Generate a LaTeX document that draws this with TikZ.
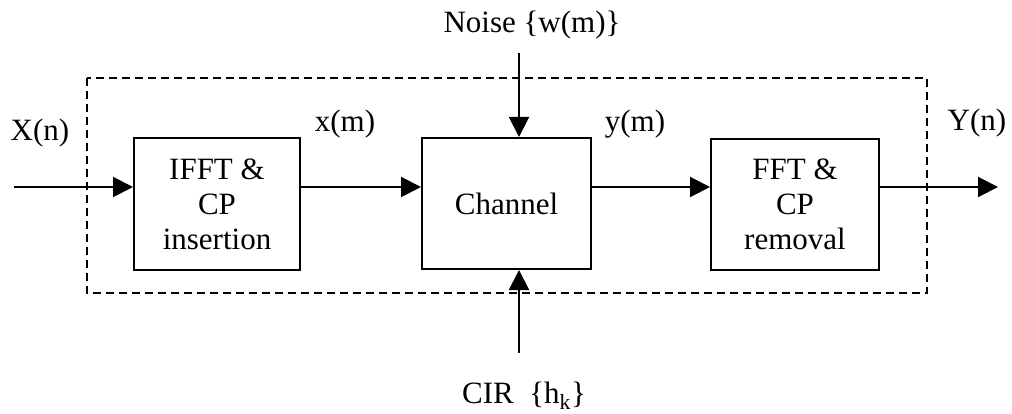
\documentclass[tikz,border=0pt]{standalone}
\usepackage{fontspec}
\setmainfont{Liberation Serif}
\usetikzlibrary{arrows.meta}
\begin{document}
\begin{tikzpicture}[x=1pt,y=-1pt,
  every node/.style={font=\fontsize{31}{35}\selectfont, inner sep=0pt},
  block/.style={draw, line width=2pt, align=center},
  sig/.style={line width=2pt, -{Triangle[length=20pt,width=20pt]}},
  frame/.style={line width=2pt, dash pattern=on 8pt off 5pt}]
\useasboundingbox (0,0) rectangle (1012,414);
% dashed enclosure
\draw[frame] (87,78) rectangle (927,293);
% blocks
\node[block, minimum width=166pt, minimum height=132pt] (ifft) at (217,204) {IFFT \&\\CP\\insertion};
\node[block, minimum width=169pt, minimum height=131pt] (chan) at (506.5,203.5) {Channel};
\node[block, minimum width=168pt, minimum height=131pt] (fft) at (795,204.5) {FFT \&\\CP\\removal};
% free ends
\coordinate (in) at (14,187);
\coordinate (out) at (998,187);
\coordinate (nz) at (519,53);
\coordinate (cir) at (519,353);
% connectors
\draw[sig] (in) -- (in -| ifft.west);
\draw[sig] (ifft.east |- in) -- (chan.west |- in);
\draw[sig] (chan.east |- in) -- (fft.west |- in);
\draw[sig] (fft.east |- in) -- (out);
\draw[sig] (nz) -- (nz |- chan.north);
\draw[sig] (cir) -- (cir |- chan.south);
% labels
\node (lX) at (40,133) {X(n)};
\node (lx) at (345,124) {x(m)};
\node (ly) at (635,124) {y(m)};
\node (lY) at (977,123) {Y(n)};
\node (lnoise) at (532,25) {Noise \{w(m)\}};
\node (lcir) at (524,396) {CIR \ \{h\textsubscript{k}\}};
\end{tikzpicture}
\end{document}
